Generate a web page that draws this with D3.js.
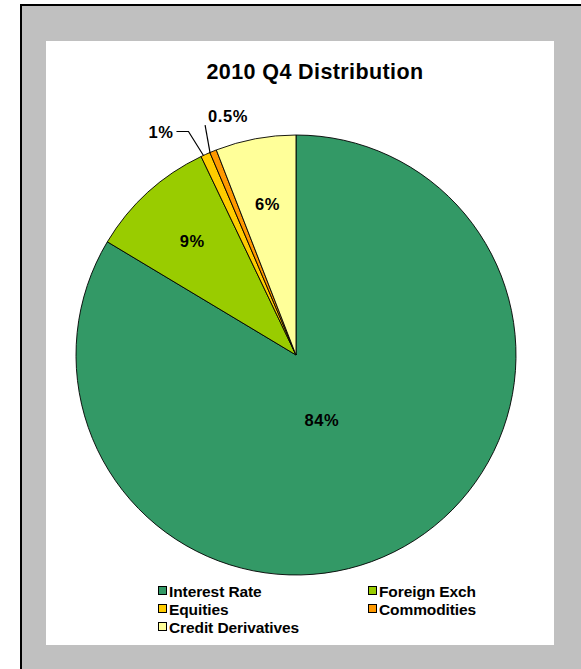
<!DOCTYPE html>
<html>
<head>
<meta charset="utf-8">
<script src="https://cdn.jsdelivr.net/npm/d3@7"></script>
<style>
  html, body { margin: 0; padding: 0; background: #fff; overflow: hidden; }
  svg { display: block; }
  text { font-family: "Liberation Sans", Arial, sans-serif; }
</style>
</head>
<body>
<svg id="chart" width="581" height="669"></svg>
<script>
// ---- data ----
const categories = ["Interest Rate", "Foreign Exch", "Equities", "Commodities", "Credit Derivatives"];
const shares = [83.6, 9.3, 0.7, 0.5, 5.9];
const shareLabels = ["84%", "9%", "1%", "0.5%", "6%"];
const colors = ["#339966", "#99CC00", "#FFCC00", "#FF9900", "#FFFF99"];
const title = "2010 Q4 Distribution";

const svg = d3.select("#chart");

// outer frame
svg.append("rect").attr("x", 21).attr("y", 5).attr("width", 600).attr("height", 700)
  .attr("fill", "#C0C0C0").attr("stroke", "#000").attr("stroke-width", 2);
// chart area
svg.append("rect").attr("x", 46).attr("y", 41).attr("width", 508).attr("height", 604)
  .attr("fill", "#fff");

svg.append("text").attr("x", 315).attr("y", 79).attr("text-anchor", "middle")
  .attr("font-size", 21.5).attr("font-weight", "bold").attr("letter-spacing", "0.4").text(title);

const cx = 296, cy = 355, r = 220;
const g = svg.append("g").attr("transform", `translate(${cx},${cy})`);

const data = categories.map((c, i) => ({ name: c, value: shares[i], label: shareLabels[i], color: colors[i] }));
const pie = d3.pie().value(d => d.value).sort(null);
const arcs = pie(data);
const arc = d3.arc().innerRadius(0).outerRadius(r);

g.selectAll("path").data(arcs).join("path")
  .attr("d", arc)
  .attr("fill", d => d.data.color)
  .attr("stroke", "#000").attr("stroke-width", 0.9).attr("stroke-linejoin", "round");

const pt = (a, rad) => [rad * Math.sin(a), -rad * Math.cos(a)];

const labelFont = 16.5;
arcs.forEach((d, i) => {
  const mid = (d.startAngle + d.endAngle) / 2;
  const frac = d.endAngle - d.startAngle;
  if (frac > 0.3) {
    let rad = 0.7 * r, ang = mid;
    if (frac > Math.PI) { rad = 0.32 * r; ang = mid + 0.14; }
    const [x, y] = pt(ang, rad);
    g.append("text").attr("x", x).attr("y", y).attr("dy", "0.36em")
      .attr("text-anchor", "middle").attr("font-size", labelFont).attr("font-weight", "bold")
      .attr("letter-spacing", "0.6").text(d.data.label);
  }
});

// outside labels for thin slices
const eq = arcs[2], cm = arcs[3];
const eqMid = (eq.startAngle + eq.endAngle) / 2;
const cmMid = (cm.startAngle + cm.endAngle) / 2;
const [ex, ey] = pt(eqMid, r);
const [mx, my] = pt(cmMid, r);
g.append("path")
  .attr("d", d3.line()([[ex - 2, ey + 1], [ex - 17, ey - 23], [ex - 29, ey - 23]]))
  .attr("fill", "none").attr("stroke", "#000").attr("stroke-width", 1.2);
g.append("text").attr("x", ex - 32).attr("y", ey - 17).attr("text-anchor", "end")
  .attr("font-size", labelFont).attr("font-weight", "bold").attr("letter-spacing", "0.6").text(eq.data.label);
g.append("path")
  .attr("d", d3.line()([[mx - 3, my + 2], [mx - 8, my - 26]]))
  .attr("fill", "none").attr("stroke", "#000").attr("stroke-width", 1.2);
g.append("text").attr("x", mx - 5).attr("y", my - 29).attr("text-anchor", "start")
  .attr("font-size", labelFont).attr("font-weight", "bold").attr("letter-spacing", "0.6").text(cm.data.label);

// legend
const legX = [158, 368], legY0 = 591, legDy = 18;
const leg = svg.append("g");
data.forEach((d, i) => {
  const col = i % 2, row = Math.floor(i / 2);
  const x = legX[col], y = legY0 + row * legDy;
  leg.append("rect").attr("x", x + 0.5).attr("y", y - 4.5).attr("width", 8).attr("height", 8)
    .attr("fill", d.color).attr("stroke", "#000").attr("stroke-width", 1);
  leg.append("text").attr("x", x + 11).attr("y", y + 5.5)
    .attr("font-size", 15.5).attr("font-weight", "bold").attr("letter-spacing", "-0.1")
    .text(d.name);
});
</script>
</body>
</html>
